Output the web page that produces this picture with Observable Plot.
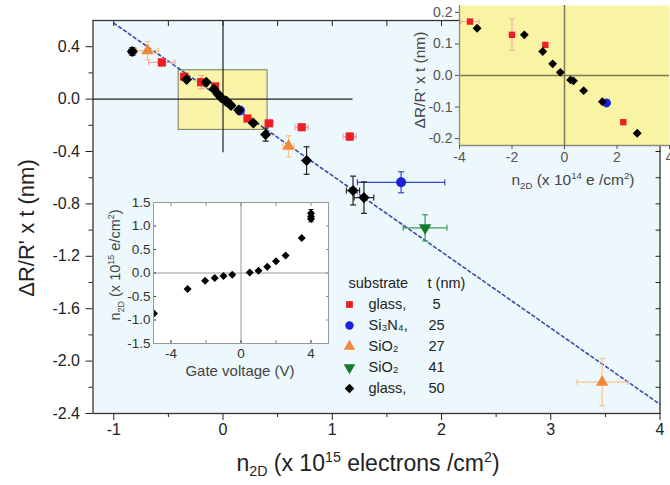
<!DOCTYPE html>
<html><head><meta charset="utf-8">
<script src="https://cdn.jsdelivr.net/npm/d3@7"></script>
<script src="https://cdn.jsdelivr.net/npm/@observablehq/plot@0.6"></script>
<style>
body{margin:0;background:#fff;}
#wrap{position:relative;width:670px;height:485px;overflow:hidden;font-family:"Liberation Sans",Arial,sans-serif;color:#111;}
.lbl{position:absolute;white-space:nowrap;line-height:1;}
.lbl sub,.lbl sup{font-size:62%;line-height:0;}
</style></head><body><div id="wrap"></div>
<script>
// ---------- main chart data (x in 1e15 electrons/cm2, y in nm) ----------
const xDomain = [-1.19, 4];
const yDomain = [-2.4, 0.6];
const xMajor = [-1, 0, 1, 2, 3, 4];
const xMinor = [-0.5, 0.5, 1.5, 2.5, 3.5];
const yMajor = [-2.4, -2.0, -1.6, -1.2, -0.8, -0.4, 0.0, 0.4];
const yMinor = [-2.2, -1.8, -1.4, -1.0, -0.6, -0.2, 0.2];

const redX    = [-0.56, -0.355, -0.2, -0.073, 0.224, 0.42, 0.72, 1.16];
const redY    = [0.28, 0.171, 0.129, 0.097, -0.148, -0.185, -0.215, -0.286];
const redXErr = [0.12, 0.035, 0, 0, 0, 0.04, 0.06, 0.06];
const redYErr = [0.03, 0, 0.05, 0, 0, 0.02, 0.02, 0.03];

const blueX    = [0.155, 1.63];
const blueY    = [-0.087, -0.635];
const blueXErr = [0, 0.4];
const blueYErr = [0, 0.08];

const orangeX    = [-0.69, 0.6, 3.47];
const orangeY    = [0.37, -0.36, -2.16];
const orangeXErr = [0.1, 0.05, 0.23];
const orangeYErr = [0.07, 0.08, 0.18];

const greenX    = [1.85];
const greenY    = [-0.983];
const greenXErr = [0.2];
const greenYErr = [0.1];

const blackX    = [-0.83, -0.333, -0.153, -0.083, -0.045, -0.016, 0.023, 0.034, 0.073, 0.144, 0.277, 0.39, 0.765, 1.19, 1.29];
const blackY    = [0.363, 0.15, 0.129, 0.076, 0.037, 0.010, -0.014, -0.017, -0.048, -0.083, -0.183, -0.271, -0.469, -0.698, -0.752];
const blackXErr = [0.03, 0, 0, 0, 0, 0, 0, 0, 0, 0, 0, 0, 0, 0.06, 0.09];
const blackYErr = [0.03, 0, 0, 0, 0, 0, 0, 0, 0, 0, 0, 0.05, 0.105, 0.11, 0.12];

const fitX = [-1, 4];
const fitY = [0.58, -2.33];
const zoomBoxX = [-0.406, 0.408];
const zoomBoxY = [-0.235, 0.22];
const crossHX = [-1.19, 1.19];
const crossVY = [-0.41, 0.6];

// ---------- top-right inset (x in 1e14 e/cm2) ----------
const inXDomain = [-4, 4];
const inYDomain = [-0.222, 0.222];
const inXTicks = [-4, -2, 0, 2, 4];
const inYTicks = [-0.2, -0.1, 0.0, 0.1, 0.2];
const inBlackX = [-3.33, -1.53, -0.83, -0.45, -0.16, 0.23, 0.34, 0.73, 1.44, 2.77];
const inBlackY = [0.150, 0.129, 0.076, 0.037, 0.010, -0.014, -0.017, -0.048, -0.083, -0.183];
const inRedX    = [-3.6, -2.0, -0.73, 2.24];
const inRedY    = [0.171, 0.129, 0.097, -0.148];
const inRedXErr = [0.35, 0, 0, 0];
const inRedYErr = [0, 0.05, 0, 0];
const inBlueX = [1.6];
const inBlueY = [-0.087];

// ---------- bottom-left inset: n2D vs gate voltage ----------
const gXDomain = [-5, 5];
const gYDomain = [-1.5, 1.5];
const gXLabels = [-4, 0, 4];
const gXTicks = [-4, -2, 0, 2, 4];
const gYTicks = [-1.5, -1.0, -0.5, 0.0, 0.5, 1.0, 1.5];
const gateV = [-4.97, -3.05, -2.05, -1.5, -1.0, -0.5, 0.5, 1.0, 1.5, 2.0, 2.55, 3.47, 4.0, 4.0, 4.0];
const gateN = [-0.86, -0.34, -0.165, -0.107, -0.064, -0.036, 0.013, 0.05, 0.134, 0.25, 0.37, 0.745, 1.15, 1.2, 1.27];
const gateErr = [0, 0, 0, 0, 0, 0, 0, 0, 0, 0, 0, 0, 0.06, 0.06, 0.08];

// ---------- legend ----------
const legSubstrate = ["glass,", "Si\u2083N\u2084,", "SiO\u2082", "SiO\u2082", "glass,"];
const legThick = ["5", "25", "27", "41", "50"];

const C = {red: "#ee1c25", blue: "#1a22dc", orange: "#f4883a", green: "#157a2c", black: "#000"};
const CE = {red: "#f4a3a3", blue: "#3546d0", orange: "#f6c48c", green: "#3b9a5a", black: "#222"};
const FONT = "'Liberation Sans', Arial, sans-serif";

const fmt1 = d => d3.format(".1f")(d).replace("\u2212", "-");
const fmt0 = d => d3.format("d")(d).replace("\u2212", "-");
const pts = (xs, ys) => xs.map((x, i) => ({x, y: ys[i]}));
function errRows(xs, ys, xe, ye) {
  const v = [], h = [];
  xs.forEach((x, i) => {
    if (ye[i] > 0) v.push({x, y1: ys[i] - ye[i], y2: ys[i] + ye[i]});
    if (xe[i] > 0) h.push({y: ys[i], x1: x - xe[i], x2: x + xe[i]});
  });
  return {v, h};
}
const capH = {draw(ctx, size) { const r = Math.sqrt(size / Math.PI); ctx.moveTo(-r, 0); ctx.lineTo(r, 0); }};
const capV = {draw(ctx, size) { const r = Math.sqrt(size / Math.PI); ctx.moveTo(0, -r); ctx.lineTo(0, r); }};
function errMarks(e, color, cap = 3, sw = 1.2) {
  const s = {stroke: color, strokeWidth: sw, fill: "none"};
  return [
    Plot.link(e.v, {x1: "x", x2: "x", y1: "y1", y2: "y2", ...s}),
    Plot.dot(e.v, {x: "x", y: "y1", symbol: capH, r: cap, ...s}),
    Plot.dot(e.v, {x: "x", y: "y2", symbol: capH, r: cap, ...s}),
    Plot.link(e.h, {x1: "x1", x2: "x2", y1: "y", y2: "y", ...s}),
    Plot.dot(e.h, {x: "x1", y: "y", symbol: capV, r: cap, ...s}),
    Plot.dot(e.h, {x: "x2", y: "y", symbol: capV, r: cap, ...s})
  ];
}
const blank = () => "";
const wrap = document.getElementById("wrap");
function place(el, left, top) {
  el.style.position = "absolute"; el.style.left = left + "px"; el.style.top = top + "px";
  wrap.appendChild(el);
}

// ---------- main ----------
const main = Plot.plot({
  width: 670, height: 485,
  marginLeft: 92.5, marginRight: 10.5, marginTop: 20, marginBottom: 72,
  x: {domain: xDomain}, y: {domain: yDomain},
  style: {fontFamily: FONT, background: "transparent", overflow: "visible"},
  marks: [
    Plot.frame({fill: "#edf8fc", stroke: "none"}),
    Plot.rect([{x1: zoomBoxX[0], x2: zoomBoxX[1], y1: zoomBoxY[0], y2: zoomBoxY[1]}],
      {x1: "x1", x2: "x2", y1: "y1", y2: "y2", fill: "#f8f3a6", stroke: "#77776a", strokeWidth: 1}),
    Plot.ruleY([0], {x1: crossHX[0], x2: crossHX[1], stroke: "#222", strokeWidth: 1.2}),
    Plot.ruleX([0], {y1: crossVY[0], y2: crossVY[1], stroke: "#222", strokeWidth: 1.2}),
    Plot.line(pts(fitX, fitY), {x: "x", y: "y", stroke: "#3a4aa8", strokeWidth: 1.6, strokeDasharray: "3,3"}),
    ...errMarks(errRows(redX, redY, redXErr, redYErr), CE.red),
    ...errMarks(errRows(blueX, blueY, blueXErr, blueYErr), CE.blue),
    ...errMarks(errRows(orangeX, orangeY, orangeXErr, orangeYErr), CE.orange),
    ...errMarks(errRows(greenX, greenY, greenXErr, greenYErr), CE.green),
    ...errMarks(errRows(blackX, blackY, blackXErr, blackYErr), CE.black),
    Plot.dot(pts(redX, redY), {x: "x", y: "y", symbol: "square", r: 4.6, fill: C.red, stroke: "none"}),
    Plot.dot(pts(blueX, blueY), {x: "x", y: "y", symbol: "circle", r: 5, fill: C.blue, stroke: "none"}),
    Plot.dot(pts(orangeX, orangeY), {x: "x", y: "y", symbol: "triangle", r: 4.6, fill: C.orange, stroke: "none"}),
    Plot.dot(pts(greenX, greenY), {x: "x", y: "y", symbol: "triangle", rotate: 180, r: 4.6, fill: C.green, stroke: "none"}),
    Plot.dot(pts(blackX, blackY), {x: "x", y: "y", symbol: "diamond2", r: 5, fill: C.black, stroke: "none"}),
    Plot.axisX({ticks: xMajor, tickSize: 7, tickPadding: 3, tickFormat: fmt0, fontSize: 16, color: "#222", label: null}),
    Plot.axisX({ticks: xMinor, tickSize: 4, tickFormat: blank, color: "#222", label: null}),
    Plot.axisX({anchor: "top", ticks: [...xMajor, ...xMinor], tickSize: -5, tickFormat: blank, color: "#222", label: null}),
    Plot.axisY({ticks: yMajor, tickSize: 7, tickPadding: 6, tickFormat: fmt1, fontSize: 16, color: "#222", label: null}),
    Plot.axisY({ticks: yMinor, tickSize: 4, tickFormat: blank, color: "#222", label: null}),
    Plot.axisY({anchor: "right", ticks: [...yMajor, ...yMinor], tickSize: -5, tickFormat: blank, color: "#222", label: null}),
    Plot.frame({stroke: "#333", strokeWidth: 1.3})
  ]
});
place(main, 0, 0);

// ---------- gate-voltage inset ----------
const gate = Plot.plot({
  width: 235, height: 185,
  marginLeft: 53, marginRight: 7, marginTop: 7, marginBottom: 37,
  x: {domain: gXDomain}, y: {domain: gYDomain},
  style: {fontFamily: FONT, background: "transparent", overflow: "visible"},
  marks: [
    Plot.frame({fill: "white", stroke: "none"}),
    Plot.ruleY([0], {stroke: "#999", strokeWidth: 1}),
    Plot.ruleX([0], {stroke: "#999", strokeWidth: 1}),
    ...errMarks(errRows(gateV, gateN, gateV.map(() => 0), gateErr), "#111", 2.5, 1),
    Plot.dot(pts(gateV, gateN), {x: "x", y: "y", symbol: "diamond2", r: 3.6, fill: "#000", stroke: "none", clip: true}),
    Plot.axisX({ticks: gXLabels, tickSize: -3, tickPadding: 8, tickFormat: fmt0, fontSize: 13.5, color: "#333", label: null}),
    Plot.axisX({ticks: gXTicks, tickSize: -3, tickFormat: blank, color: "#888", label: null}),
    Plot.axisX({anchor: "top", ticks: gXTicks, tickSize: -3, tickFormat: blank, color: "#888", label: null}),
    Plot.axisY({ticks: gYTicks, tickSize: -3, tickPadding: 6, tickFormat: fmt1, fontSize: 13.5, color: "#333", label: null}),
    Plot.axisY({anchor: "right", ticks: gYTicks, tickSize: -3, tickFormat: blank, color: "#888", label: null}),
    Plot.frame({stroke: "#999", strokeWidth: 1})
  ]
});
place(gate, 100, 195);

// ---------- legend ----------
const legRows = d3.range(legSubstrate.length).map(i => i + 1);
const legSym = [
  {symbol: "square", r: 3.8, fill: C.red, rotate: 0},
  {symbol: "circle", r: 4.2, fill: C.blue, rotate: 0},
  {symbol: "triangle", r: 4.3, fill: C.orange, rotate: 0},
  {symbol: "triangle", r: 4.3, fill: C.green, rotate: 180},
  {symbol: "diamond2", r: 4.3, fill: C.black, rotate: 0}
];
const legend = Plot.plot({
  width: 140, height: 130,
  marginLeft: 9, marginRight: 0, marginTop: 12, marginBottom: 12,
  y: {type: "point", domain: d3.range(legSubstrate.length + 1), padding: 0, axis: null},
  style: {fontFamily: FONT, background: "transparent", overflow: "visible"},
  marks: [
    Plot.text([0], {y: d => d, frameAnchor: "left", dx: -1, text: () => "substrate", textAnchor: "start", fontSize: 14.5, fill: "#222"}),
    Plot.text([0], {y: d => d, frameAnchor: "left", dx: 78, text: () => "t (nm)", textAnchor: "start", fontSize: 14.5, fill: "#222"}),
    ...legSym.map((s, i) => Plot.dot([legRows[i]], {y: d => d, frameAnchor: "left", symbol: s.symbol, r: s.r, rotate: s.rotate, fill: s.fill, stroke: "none"})),
    Plot.text(legRows, {y: d => d, frameAnchor: "left", dx: 19, text: d => legSubstrate[d - 1], textAnchor: "start", fontSize: 14.5, fill: "#222"}),
    Plot.text(legRows, {y: d => d, frameAnchor: "left", dx: 87, text: d => legThick[d - 1], textAnchor: "middle", fontSize: 14.5, fill: "#222"})
  ]
});
place(legend, 340, 270);

// ---------- top-right zoom inset ----------
const zin = Plot.plot({
  width: 275, height: 200,
  marginLeft: 64, marginRight: 1, marginTop: 5, marginBottom: 55,
  x: {domain: inXDomain}, y: {domain: inYDomain},
  style: {fontFamily: FONT, background: "transparent", overflow: "visible"},
  marks: [
    Plot.frame({fill: "#f9f4a4", stroke: "none"}),
    Plot.ruleY([0], {stroke: "#7e7852", strokeWidth: 1.5}),
    Plot.ruleX([0], {stroke: "#7e7852", strokeWidth: 1.5}),
    ...errMarks(errRows(inRedX, inRedY, inRedXErr, inRedYErr), CE.red, 2.5, 1),
    Plot.dot(pts(inRedX, inRedY), {x: "x", y: "y", symbol: "square", r: 3.6, fill: C.red, stroke: "none"}),
    Plot.dot(pts(inBlueX, inBlueY), {x: "x", y: "y", symbol: "circle", r: 4.5, fill: C.blue, stroke: "none"}),
    Plot.dot(pts(inBlackX, inBlackY), {x: "x", y: "y", symbol: "diamond2", r: 4, fill: C.black, stroke: "none"}),
    Plot.ruleX([inXDomain[0]], {stroke: "#8a8a80", strokeWidth: 1.3}),
    Plot.ruleY([inYDomain[0]], {stroke: "#8a8a80", strokeWidth: 1.3}),
    Plot.axisX({ticks: inXTicks, tickSize: 4, tickPadding: 3, tickFormat: fmt0, fontSize: 14, color: "#555", label: null}),
    Plot.axisY({ticks: inYTicks, tickSize: 4, tickPadding: 3, tickFormat: fmt1, fontSize: 14, color: "#555", label: null})
  ]
});
place(zin, 395, 0);

// ---------- titles (HTML text with sub/superscripts) ----------
function label(html, x, y, size, color, rotate) {
  const d = document.createElement("div");
  d.className = "lbl";
  d.innerHTML = html;
  d.style.left = x + "px"; d.style.top = y + "px";
  d.style.fontSize = size + "px"; d.style.color = color;
  d.style.transform = "translate(-50%,-50%)" + (rotate ? " rotate(-90deg)" : "");
  wrap.appendChild(d);
}
label("\u0394R/R' x t (nm)", 27, 228, 22, "#222", true);
label("n<sub>2D</sub> (x 10<sup>15</sup> electrons /cm<sup>2</sup>)", 368, 463, 23, "#222", false);
label("\u0394R/R' x t (nm)", 420, 80, 15.5, "#444", true);
label("n<sub>2D</sub> (x 10<sup>14</sup> e /cm<sup>2</sup>)", 573, 180, 15.5, "#444", false);
label("Gate voltage (V)", 240, 370, 15, "#444", false);
label("n<sub>2D</sub> (x 10<sup>15</sup> e/cm<sup>2</sup>)", 115, 265, 14.5, "#444", true);
</script></body></html>
